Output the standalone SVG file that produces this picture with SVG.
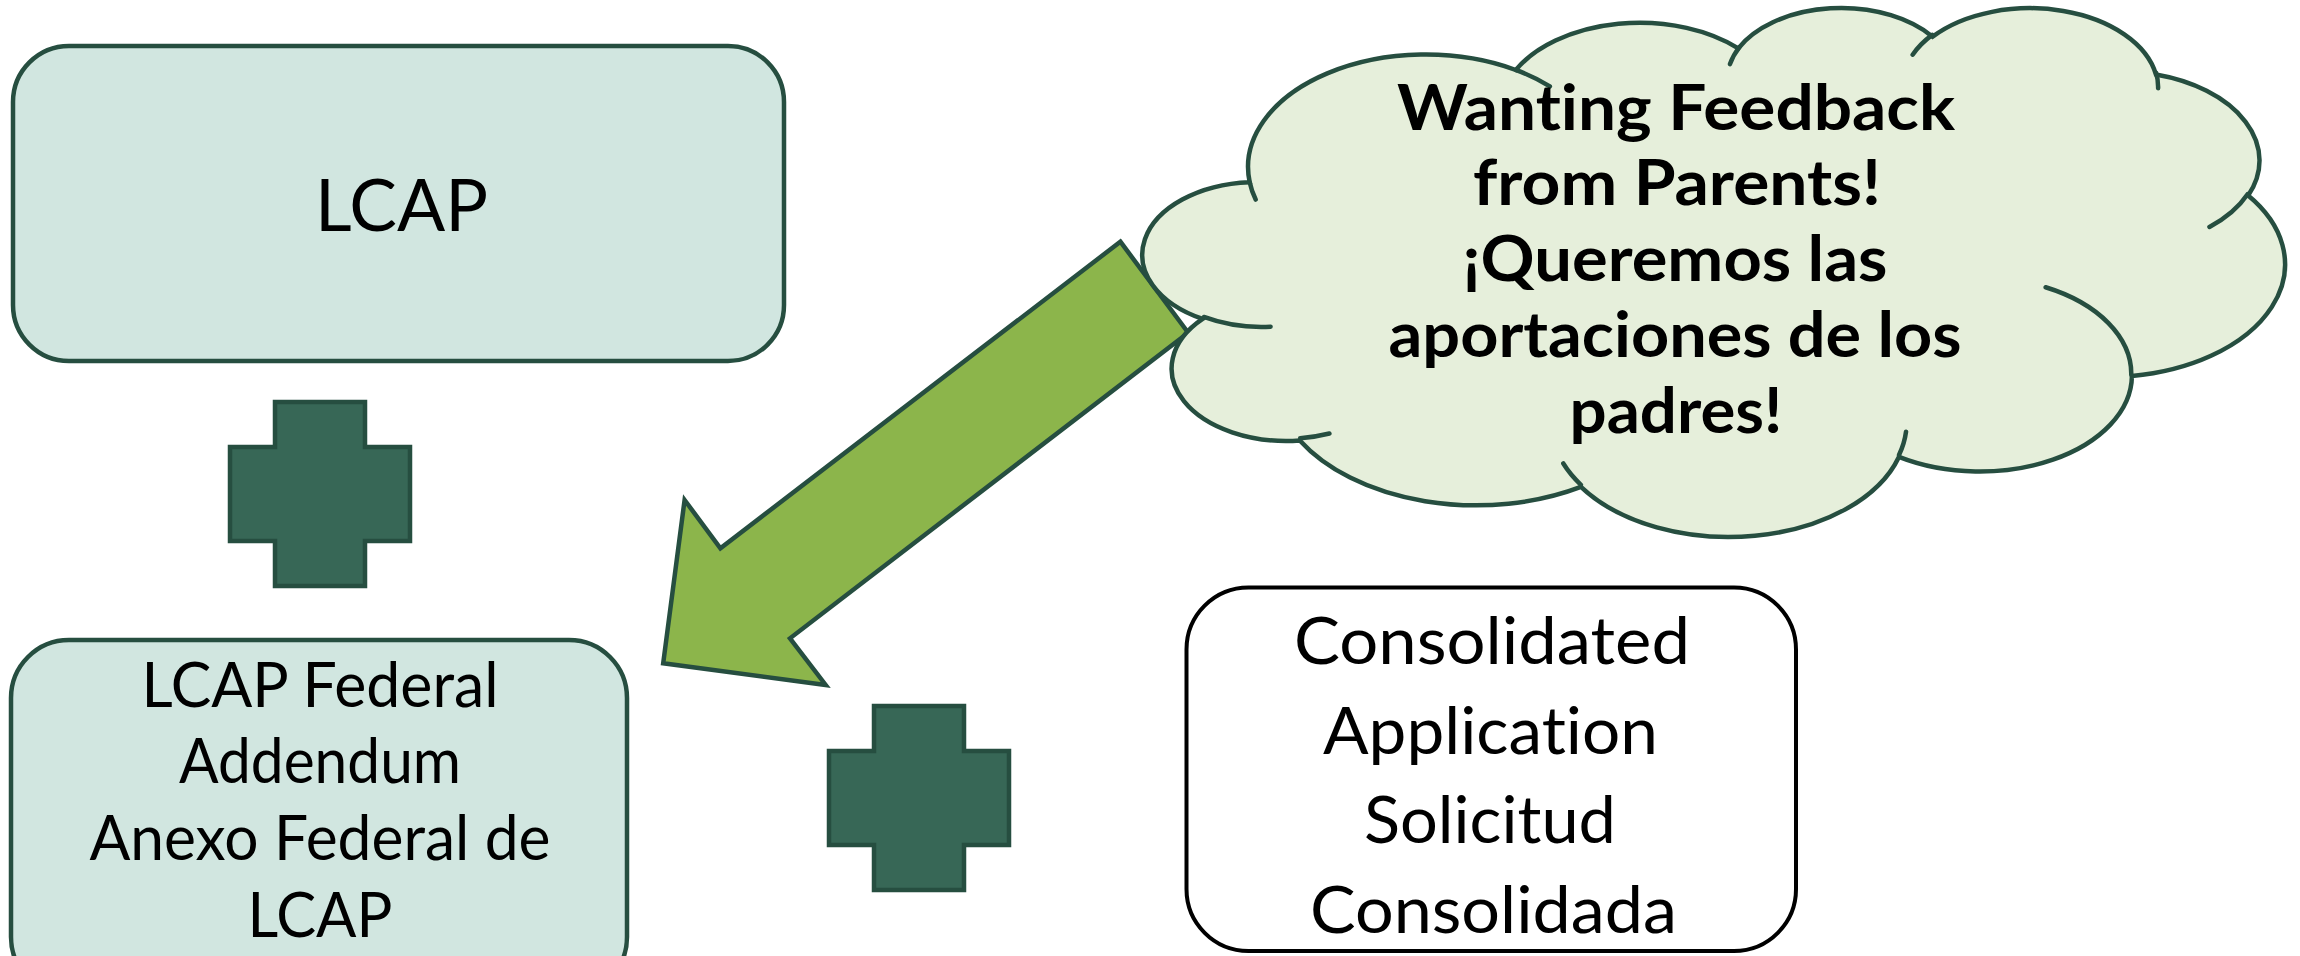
<svg xmlns="http://www.w3.org/2000/svg" width="2300" height="956" viewBox="0 0 2300 956">
  <style>
    .box { fill: #D1E6E0; stroke: #264E40; stroke-width: 4.5; }
    .plain { fill: #FFFFFF; stroke: #000000; stroke-width: 4; }
    .plus { fill: #376756; stroke: #264E40; stroke-width: 4.5; stroke-linejoin: miter; }
    .arrow { fill: #8CB54B; stroke: #264E40; stroke-width: 4.5; stroke-linejoin: miter; }
    .cloud { fill: #E6EFDB; stroke: #264E40; stroke-width: 4.5; vector-effect: non-scaling-stroke; }
    .cloudline { fill: none; stroke: #264E40; stroke-width: 4.5; stroke-linecap: round; vector-effect: non-scaling-stroke; }
    .t { font-family: Lato, "Open Sans", "Liberation Sans", sans-serif; fill: #000000; text-anchor: middle; font-variant-ligatures: none; }
    .tb { font-family: Lato, "Open Sans", "Liberation Sans", sans-serif; font-weight: bold; fill: #000000; text-anchor: middle; font-variant-ligatures: none; }
  </style>
  <rect width="2300" height="956" fill="#FFFFFF"/>

  <g id="lcap">
    <rect class="box" x="13" y="46" width="771" height="315" rx="56" ry="56"/>
    <text class="t" x="401.5" y="231" font-size="72" textLength="173" lengthAdjust="spacingAndGlyphs">LCAP</text>
  </g>

  <g id="plus1">
    <polygon class="plus" points="275,402 365,402 365,447 410,447 410,541 365,541 365,586 275,586 275,541 230,541 230,447 275,447"/>
  </g>

  <g id="federal-addendum">
    <rect class="box" x="11" y="640" width="616" height="355" rx="58" ry="58"/>
    <text class="t" x="320" y="707" font-size="62" textLength="357" lengthAdjust="spacingAndGlyphs">LCAP Federal</text>
    <text class="t" x="320" y="783" font-size="62" textLength="282" lengthAdjust="spacingAndGlyphs">Addendum</text>
    <text class="t" x="320" y="860" font-size="62" textLength="461" lengthAdjust="spacingAndGlyphs">Anexo Federal de</text>
    <text class="t" x="320" y="937" font-size="62" textLength="145" lengthAdjust="spacingAndGlyphs">LCAP</text>
  </g>

  <g id="connectors">
    <polygon class="arrow" points="1120.4,241.7 1188.2,332.7 790,638.3 825.7,685 663.2,663.3 684.6,500 720.4,548.3"/>
  </g>

  <g id="cloud">
    <g transform="translate(1147 6.3) scale(0.026331 0.01224)">
      <path class="cloud" d="M3900,14370 A6753,9190 0 0 1 14006,5203 A5333,7267 0 0 1 22457,3433 A4365,5945 0 0 1 29835,2482 A4857,6595 0 0 1 38319,5579 A5333,7273 0 0 1 41820,15463 A6775,9220 0 0 1 37405,30204 A5785,7867 0 0 1 28556,36815 A6752,9215 0 0 1 16480,39264 A7720,10543 0 0 1 5803,35468 A4360,5918 0 0 1 2113,25544 A4345,5945 0 0 1 3900,14370 Z"/>
      <path class="cloudline" d="M4693,26177 A4345,5945 0 0 1 2159,25380 M6928,34899 A4360,5918 0 0 1 5819,35281 M16478,39090 A6752,9215 0 0 1 15811,37352 M28827,34751 A6752,9215 0 0 1 28560,36660 M34129,22954 A5785,7867 0 0 1 37381,30090 M41798,15354 A5333,7273 0 0 1 40350,18031 M38324,5426 A4857,6595 0 0 1 38400,6690 M29078,3952 A4857,6595 0 0 1 29821,2338 M22141,4720 A4365,5945 0 0 1 22500,3330 M14000,5192 A6753,9190 0 0 1 15300,6542 M4127,15789 A6753,9190 0 0 1 3900,14370"/>
    </g>
    <text class="tb" x="1676" y="130" font-size="63" textLength="558" lengthAdjust="spacingAndGlyphs">Wanting Feedback</text>
    <text class="tb" x="1677" y="205" font-size="63" textLength="408" lengthAdjust="spacingAndGlyphs">from Parents!</text>
    <text class="tb" x="1675" y="281" font-size="63" textLength="425" lengthAdjust="spacingAndGlyphs">¡Queremos las</text>
    <text class="tb" x="1675" y="357" font-size="63" textLength="573" lengthAdjust="spacingAndGlyphs">aportaciones de los</text>
    <text class="tb" x="1676" y="433" font-size="63" textLength="213" lengthAdjust="spacingAndGlyphs">padres!</text>
  </g>

  <g id="plus2">
    <polygon class="plus" points="874,706 964,706 964,751 1009,751 1009,845 964,845 964,890 874,890 874,845 829,845 829,751 874,751"/>
  </g>

  <g id="consolidated">
    <rect class="plain" x="1186.5" y="587.5" width="609.5" height="363.5" rx="62" ry="62"/>
    <text class="t" x="1492" y="664" font-size="66" textLength="396" lengthAdjust="spacingAndGlyphs">Consolidated</text>
    <text class="t" x="1490.5" y="754" font-size="66" textLength="335" lengthAdjust="spacingAndGlyphs">Application</text>
    <text class="t" x="1490" y="843" font-size="66" textLength="252" lengthAdjust="spacingAndGlyphs">Solicitud</text>
    <text class="t" x="1493.5" y="933" font-size="66" textLength="367" lengthAdjust="spacingAndGlyphs">Consolidada</text>
  </g>
</svg>
